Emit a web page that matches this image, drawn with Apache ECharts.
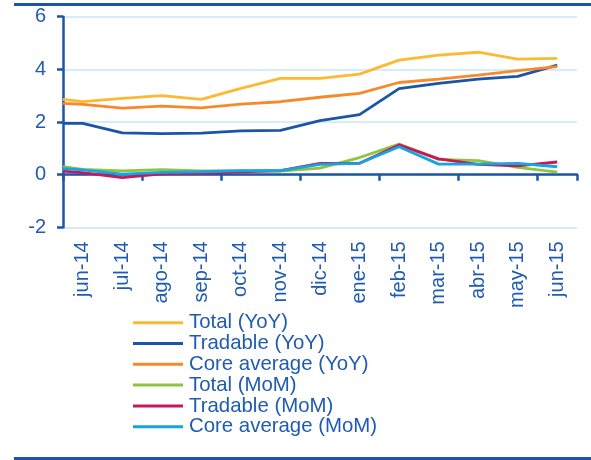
<!DOCTYPE html>
<html>
<head>
<meta charset="utf-8">
<script src="https://cdn.jsdelivr.net/npm/echarts@6/dist/echarts.min.js"></script>
<style>
html,body{margin:0;padding:0;background:#fff;}
#c{width:591px;height:460px;}
</style>
</head>
<body>
<div id="c"></div>
<script>
// Category labels
var categories = ['jun-14','jul-14','ago-14','sep-14','oct-14','nov-14','dic-14','ene-15','feb-15','mar-15','abr-15','may-15','jun-15'];
// Y-axis ticks
var yTicks = [-2, 0, 2, 4, 6];
// x positions of points in category units: first point sits on the left edge of the plot
var xPositions = [-0.5, 0, 1, 2, 3, 4, 5, 6, 7, 8, 9, 10, 11, 12];
// Series values (first value = value at the left edge of the plot)
var totalYoY    = [2.86, 2.77, 2.90, 3.00, 2.86, 3.28, 3.66, 3.66, 3.82, 4.35, 4.54, 4.65, 4.39, 4.42];
var tradableYoY = [1.95, 1.95, 1.59, 1.56, 1.58, 1.66, 1.68, 2.05, 2.28, 3.27, 3.47, 3.63, 3.73, 4.16];
var coreYoY     = [2.71, 2.67, 2.53, 2.60, 2.54, 2.68, 2.77, 2.94, 3.09, 3.50, 3.63, 3.78, 3.95, 4.10];
var totalMoM    = [0.30, 0.20, 0.14, 0.19, 0.14, 0.14, 0.13, 0.25, 0.65, 1.16, 0.58, 0.53, 0.28, 0.10];
var tradableMoM = [0.13, 0.08, -0.11, 0.03, 0.05, 0.11, 0.15, 0.43, 0.43, 1.13, 0.60, 0.39, 0.33, 0.48];
var coreMoM     = [0.23, 0.18, 0.02, 0.09, 0.11, 0.15, 0.15, 0.39, 0.43, 1.06, 0.40, 0.40, 0.43, 0.30];
var seriesNames = ['Total (YoY)','Tradable (YoY)','Core average (YoY)','Total (MoM)','Tradable (MoM)','Core average (MoM)'];
var seriesValues = [totalYoY, tradableYoY, coreYoY, totalMoM, tradableMoM, coreMoM];
var seriesColors = ['#fdb933','#1a55a7','#f68a2b','#8cc63e','#c8185a','#14a5e3'];

var textBlue = '#1f5bb0';
var axisBlue = '#1d55a6';
var font = '"Liberation Sans", Arial, sans-serif';

function pairs(vals){ return vals.map(function(v,i){ return [xPositions[i], v]; }); }

var chart = echarts.init(document.getElementById('c'), null, {renderer:'canvas'});
chart.setOption({
  animation:false,
  backgroundColor:'#ffffff',
  grid:{left:63, right:14, top:16.7, bottom:232.7, containLabel:false},
  graphic:[
    {type:'line', shape:{x1:14,y1:4.5,x2:591,y2:4.5}, style:{stroke:axisBlue, lineWidth:3}},
    {type:'line', shape:{x1:14,y1:458.5,x2:591,y2:458.5}, style:{stroke:axisBlue, lineWidth:3}}
  ],
  legend:{
    orient:'vertical', left:133, top:312.3, padding:0, itemWidth:50, itemHeight:3, itemGap:0,
    icon:'rect', data:seriesNames,
    textStyle:{color:textBlue, fontSize:20.4, fontFamily:font, lineHeight:20.8, padding:[0,0,0,1]}
  },
  xAxis:[
    {type:'category', data:categories, boundaryGap:true,
     axisLine:{show:true, onZero:true, lineStyle:{color:axisBlue, width:2.5}},
     axisTick:{show:true, length:6, lineStyle:{color:axisBlue, width:2.5}},
     axisLabel:{show:false}, splitLine:{show:false}},
    {type:'category', data:categories, boundaryGap:true, position:'bottom',
     axisLine:{show:false, onZero:false}, axisTick:{show:false}, splitLine:{show:false},
     axisLabel:{show:true, rotate:90, margin:14, interval:0, color:textBlue, fontSize:20, fontFamily:font}},
    {type:'value', min:-0.5, max:12.5, show:false}
  ],
  yAxis:{
    type:'value', min:yTicks[0], max:yTicks[yTicks.length-1], interval:2,
    axisLine:{show:true, onZero:false, lineStyle:{color:axisBlue, width:2.5}},
    axisTick:{show:true, length:6, lineStyle:{color:axisBlue, width:2.5}},
    axisLabel:{color:textBlue, fontSize:20, fontFamily:font, margin:17},
    splitLine:{show:true, lineStyle:{color:'#c7e7f6', width:1.5}}
  },
  series: seriesNames.map(function(n,i){
    return {name:n, type:'line', xAxisIndex:2, data:pairs(seriesValues[i]),
      symbol:'none', clip:true, color:seriesColors[i],
      lineStyle:{color:seriesColors[i], width:2.8}};
  })
});
</script>
</body>
</html>
